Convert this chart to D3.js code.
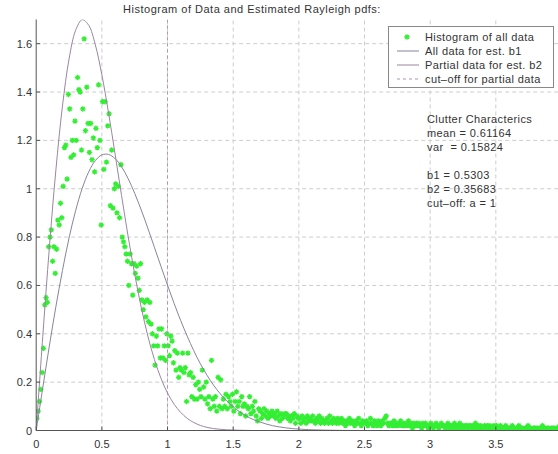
<!DOCTYPE html>
<html><head><meta charset="utf-8">
<script src="https://cdn.jsdelivr.net/npm/d3@7"></script>
<style>
body{margin:0;background:#fff;}
svg{display:block;font-family:"Liberation Sans",Arial,sans-serif;}
</style></head><body>
<svg id="c" width="558" height="454"></svg>
<script>
const titleText = "Histogram of Data and Estimated Rayleigh pdfs:";
const xTicks = [0, 0.5, 1, 1.5, 2, 2.5, 3, 3.5];
const yTicks = [0, 0.2, 0.4, 0.6, 0.8, 1, 1.2, 1.4, 1.6];
const legendLabels = ["Histogram of all data", "All data for est. b1", "Partial data for est. b2", "cut\u2013off for partial data"];
const infoLines = ["Clutter Characterics", "mean = 0.61164", "var  = 0.15824", "", "b1 = 0.5303", "b2 = 0.35683", "cut\u2013off: a = 1"];
const cutOff = 1;

// histogram bin heights, bins of width 0.01 starting at 0
const binStart = 0.005, binWidth = 0.01;
const hist0to1 = [
 0.05,0.08,0.12,0.17,0.24,0.34,0.52,0.55,0.53,0.76,
 0.80,0.83,0.70,0.76,0.65,0.75,0.87,0.85,0.94,0.88,
 1.01,1.17,1.18,1.04,1.39,1.33,1.13,1.20,1.14,1.28,
 1.20,1.46,1.41,1.40,1.16,1.33,1.62,1.24,1.42,1.27,
 1.15,1.27,1.12,1.21,1.07,1.25,1.17,1.43,1.20,0.85,
 1.36,1.08,1.36,1.11,1.26,1.31,0.93,1.16,0.92,1.00,
 1.02,0.90,1.01,0.88,1.10,0.80,0.78,0.76,0.73,0.70,
 0.60,0.73,0.69,0.56,0.69,0.65,0.68,0.63,0.58,0.69,
 0.54,0.50,0.53,0.47,0.54,0.45,0.53,0.44,0.40,0.35,
 0.27,0.39,0.35,0.42,0.30,0.42,0.30,0.35,0.29,0.40];
const hist1to2 = [
 0.35,0.31,0.39,0.37,0.28,0.33,0.25,0.32,0.22,0.26,
 0.25,0.32,0.24,0.26,0.12,0.32,0.23,0.24,0.14,0.22,
 0.13,0.19,0.13,0.20,0.17,0.14,0.25,0.18,0.13,0.20,
 0.11,0.14,0.09,0.29,0.13,0.10,0.14,0.08,0.22,0.10,
 0.21,0.09,0.13,0.10,0.15,0.09,0.14,0.12,0.10,0.15,
 0.08,0.12,0.16,0.10,0.12,0.07,0.14,0.10,0.11,0.06,
 0.10,0.09,0.14,0.07,0.10,0.08,0.12,0.06,0.04,0.09,
 0.08,0.05,0.07,0.09,0.06,0.08,0.05,0.07,0.06,0.08,
 0.06,0.07,0.05,0.08,0.06,0.04,0.07,0.05,0.06,0.07,
 0.07,0.05,0.06,0.04,0.06,0.05,0.07,0.03,0.06,0.05];
const hist2to4 = [
 0.05,0.03,0.06,0.04,0.05,0.03,0.06,0.04,0.05,0.04,
 0.06,0.04,0.03,0.05,0.04,0.06,0.03,0.05,0.04,0.03,
 0.04,0.05,0.03,0.06,0.04,0.03,0.05,0.04,0.03,0.05,
 0.03,0.04,0.05,0.03,0.04,0.02,0.04,0.03,0.05,0.03,
 0.04,0.03,0.02,0.04,0.03,0.05,0.03,0.02,0.04,0.03,
 0.03,0.04,0.02,0.03,0.05,0.03,0.02,0.04,0.03,0.02,
 0.04,0.03,0.02,0.04,0.03,0.05,0.06,0.03,0.02,0.03,
 0.03,0.02,0.04,0.02,0.03,0.02,0.03,0.04,0.02,0.03,
 0.02,0.03,0.02,0.04,0.02,0.03,0.01,0.03,0.02,0.03,
 0.02,0.03,0.02,0.01,0.03,0.02,0.03,0.02,0.01,0.02,
 0.03,0.02,0.01,0.02,0.03,0.02,0.01,0.02,0.03,0.02,
 0.02,0.01,0.02,0.03,0.01,0.02,0.02,0.01,0.03,0.02,
 0.01,0.02,0.03,0.01,0.02,0.01,0.02,0.02,0.01,0.02,
 0.02,0.01,0.02,0.01,0.03,0.01,0.02,0.01,0.02,0.01,
 0.01,0.02,0.01,0.02,0.01,0.02,0.01,0.01,0.02,0.01,
 0.02,0.01,0.01,0.02,0.01,0.00,0.01,0.02,0.01,0.01,
 0.01,0.01,0.02,0.01,0.00,0.01,0.01,0.02,0.01,0.01,
 0.01,0.00,0.01,0.01,0.02,0.01,0.01,0.00,0.01,0.01,
 0.01,0.01,0.00,0.01,0.01,0.02,0.01,0.01,0.00,0.01,
 0.01,0.00,0.01,0.01,0.01,0.00,0.01,0.01,0.02,0.01];

// estimated Rayleigh pdf curves (sampled)
const curveX = [0,0.05,0.1,0.15,0.2,0.25,0.3,0.35,0.4,0.45,0.5,0.55,0.6,0.65,0.7,0.75,0.8,0.85,0.9,0.95,
 1,1.05,1.1,1.15,1.2,1.25,1.3,1.35,1.4,1.45,1.5,1.55,1.6,1.65,1.7,1.75,1.8,1.85,1.9,1.95,2,2.1,2.2,2.3,2.4,2.5];
const pdfB1 = [0,0.177,0.349,0.513,0.662,0.796,0.909,1.001,1.070,1.116,1.140,1.142,1.125,1.091,1.042,0.981,0.912,0.837,0.758,0.679,
 0.601,0.526,0.455,0.390,0.330,0.276,0.229,0.188,0.153,0.123,0.098,0.077,0.060,0.046,0.036,0.027,0.020,0.015,0.011,0.008,0.006,0.003,0.0015,0.0007,0.0003,0.0001];
const pdfB2 = [0,0.389,0.755,1.078,1.342,1.536,1.655,1.699,1.676,1.596,1.471,1.317,1.146,0.972,0.803,0.647,0.509,0.391,0.294,0.216,
 0.155,0.109,0.075,0.050,0.033,0.021,0.013,0.008,0.005,0.003,0.002,0.001,0.0005,0,0,0,0,0,0,0,0,0,0,0,0,0];

const hist = hist0to1.concat(hist1to2, hist2to4).map((v, i) => ({x: binStart + i * binWidth, y: v}));

const svg = d3.select("#c");
const x = d3.scaleLinear().domain([0, 4]).range([36.2, 561.5]);
const y = d3.scaleLinear().domain([0, 1.7]).range([430.5, 19.5]);

svg.append("defs").append("clipPath").attr("id", "clip")
  .append("rect").attr("x", x(0)).attr("y", y(1.7)).attr("width", x(4) - x(0)).attr("height", y(0) - y(1.7));

const gridColor = "#cdcdcd";
svg.append("g").selectAll("line").data(xTicks.filter(d => d > 0)).join("line")
  .attr("x1", d => x(d)).attr("x2", d => x(d)).attr("y1", y(0)).attr("y2", y(1.7))
  .attr("stroke", gridColor).attr("stroke-dasharray", "4,3").attr("stroke-width", 1);
svg.append("g").selectAll("line").data(yTicks.filter(d => d > 0)).join("line")
  .attr("x1", x(0)).attr("x2", x(4)).attr("y1", d => y(d)).attr("y2", d => y(d))
  .attr("stroke", gridColor).attr("stroke-dasharray", "4,3").attr("stroke-width", 1);

const plot = svg.append("g").attr("clip-path", "url(#clip)");

const star = r => `M${-r},0H${r}M0,${-r}V${r}M${-r*0.7},${-r*0.7}L${r*0.7},${r*0.7}M${-r*0.7},${r*0.7}L${r*0.7},${-r*0.7}`;
const green = "#33ee33";
plot.append("g").selectAll("path").data(hist).join("path")
  .attr("transform", d => `translate(${x(d.x)},${y(d.y)})`)
  .attr("d", star(2.7)).attr("stroke", green).attr("stroke-width", 1.3).attr("fill", "none");

plot.append("line").attr("x1", x(cutOff)).attr("x2", x(cutOff)).attr("y1", y(0)).attr("y2", y(1.7))
  .attr("stroke", "#b592b5").attr("stroke-dasharray", "3,3").attr("stroke-width", 1);

const line = d3.line().curve(d3.curveCatmullRom);
const c1 = "#85859a", c2 = "#9a86a0";
plot.append("path").attr("d", line(curveX.map((v, i) => [x(v), y(pdfB1[i])])))
  .attr("fill", "none").attr("stroke", c1).attr("stroke-width", 1);
plot.append("path").attr("d", line(curveX.map((v, i) => [x(v), y(pdfB2[i])])))
  .attr("fill", "none").attr("stroke", c2).attr("stroke-width", 1);

const axisColor = "#555";
svg.append("line").attr("x1", x(0)).attr("x2", x(0)).attr("y1", y(0)).attr("y2", y(1.7)).attr("stroke", axisColor);
svg.append("line").attr("x1", x(0)).attr("x2", x(4)).attr("y1", y(0)).attr("y2", y(0)).attr("stroke", axisColor);
svg.append("g").selectAll("line").data(xTicks).join("line")
  .attr("x1", d => x(d)).attr("x2", d => x(d)).attr("y1", y(0)).attr("y2", y(0) - 4).attr("stroke", axisColor);
svg.append("g").selectAll("line").data(yTicks).join("line")
  .attr("x1", x(0)).attr("x2", x(0) + 4).attr("y1", d => y(d)).attr("y2", d => y(d)).attr("stroke", axisColor);
svg.append("g").selectAll("text").data(xTicks).join("text")
  .attr("x", d => x(d)).attr("y", 448).attr("text-anchor", "middle")
  .attr("font-size", 11).attr("fill", "#333").text(d => d3.format("")(d));
svg.append("g").selectAll("text").data(yTicks).join("text")
  .attr("x", 32).attr("y", d => y(d) + 4).attr("text-anchor", "end")
  .attr("font-size", 11).attr("fill", "#333").text(d => d3.format("")(d));

svg.append("text").attr("x", 252).attr("y", 13).attr("text-anchor", "middle")
  .attr("font-size", 11).attr("letter-spacing", 0.5).attr("fill", "#333").text(titleText);

const lg = svg.append("g");
lg.append("rect").attr("x", 388.5).attr("y", 26.5).attr("width", 165).attr("height", 61)
  .attr("fill", "#fff").attr("stroke", "#888");
const ly = [37, 51, 65, 79];
legendLabels.forEach((t, i) => {
  lg.append("text").attr("x", 425).attr("y", ly[i] + 4).attr("font-size", 11)
    .attr("letter-spacing", 0.4).attr("fill", "#333").text(t);
});
lg.append("path").attr("transform", `translate(407,${ly[0]})`).attr("d", star(2.7))
  .attr("stroke", green).attr("stroke-width", 1.3).attr("fill", "none");
lg.append("line").attr("x1", 397).attr("x2", 419).attr("y1", ly[1]).attr("y2", ly[1]).attr("stroke", c1);
lg.append("line").attr("x1", 397).attr("x2", 419).attr("y1", ly[2]).attr("y2", ly[2]).attr("stroke", c2);
lg.append("line").attr("x1", 397).attr("x2", 419).attr("y1", ly[3]).attr("y2", ly[3]).attr("stroke", "#b592b5").attr("stroke-dasharray", "3,3");

const info = svg.append("text").attr("font-size", 11).attr("letter-spacing", 0.4).attr("fill", "#333");
infoLines.forEach((t, i) => {
  info.append("tspan").attr("x", 427).attr("y", 123 + i * 14).attr("xml:space", "preserve").text(t);
});
</script>
</body></html>
